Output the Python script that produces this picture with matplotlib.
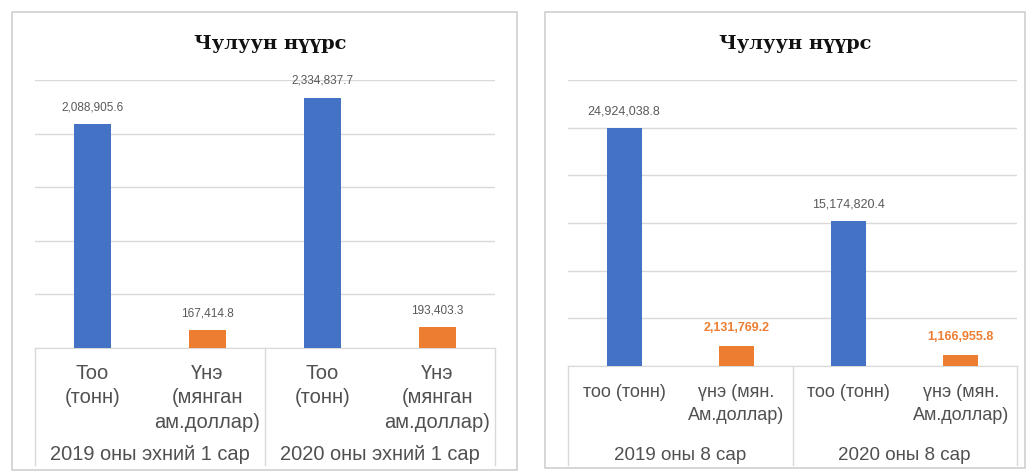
import matplotlib
matplotlib.use("Agg")
import matplotlib.pyplot as plt
import matplotlib.transforms as mtransforms
from matplotlib.patches import Rectangle
from matplotlib.lines import Line2D

W, H = 1030, 474

title = "Чулуун нүүрс"

# Left chart
left_cats = ["Тоо\n(тонн)", "Үнэ\n(мянган\nам.доллар)", "Тоо\n(тонн)", "Үнэ\n(мянган\nам.доллар)"]
left_groups = ["2019 оны эхний 1 сар", "2020 оны эхний 1 сар"]
left_values = [2088905.6, 167414.8, 2334837.7, 193403.3]
left_labels = ["2,088,905.6", "167,414.8", "2,334,837.7", "193,403.3"]

# Right chart
right_cats = ["тоо (тонн)", "үнэ (мян.\nАм.доллар)", "тоо (тонн)", "үнэ (мян.\nАм.доллар)"]
right_groups = ["2019 оны 8 сар", "2020 оны 8 сар"]
right_values = [24924038.8, 2131769.2, 15174820.4, 1166955.8]
right_labels = ["24,924,038.8", "2,131,769.2", "15,174,820.4", "1,166,955.8"]

BLUE = "#4472C4"
ORANGE = "#ED7D31"
GRID = "#D9D9D9"
TXT = "#505050"

plt.rcParams['font.family'] = ['Liberation Sans', 'DejaVu Sans']

fig = plt.figure(figsize=(W / 100, H / 100), dpi=100)
fig.patch.set_facecolor("white")


def fx(x):
    return x / W


def fy(y):
    return 1 - y / H


def panel_border(x0, y0, x1, y1):
    fig.add_artist(Rectangle((fx(x0), fy(y1)), fx(x1) - fx(x0), fy(y0) - fy(y1),
                             transform=fig.transFigure, fill=False,
                             edgecolor="#D0D0D0", linewidth=1.2))


def make_panel(px0, px1, py_top, py_base, ymax, ystep, values, labels, cats, groups,
               bw, title_x, cat_top, cat_fs, cat_ls, grp_y, grp_fs, val_fs, orange_style,
               sep_bottom):
    ax = fig.add_axes([fx(px0), fy(py_base), fx(px1) - fx(px0), fy(py_top) - fy(py_base)])
    x = list(range(len(values)))
    colors = [BLUE, ORANGE, BLUE, ORANGE]
    ax.bar(x, values, width=bw, color=colors, zorder=3)
    ax.set_xlim(-0.5, len(values) - 0.5)
    ax.set_ylim(0, ymax)
    ticks = [i * ystep for i in range(int(round(ymax / ystep)) + 1)]
    ax.set_yticks(ticks)
    ax.yaxis.grid(True, color=GRID, linewidth=1.0, zorder=0)
    ax.set_yticklabels([])
    ax.tick_params(left=False, bottom=False, labelbottom=False)
    for s in ["top", "right", "left"]:
        ax.spines[s].set_visible(False)
    ax.spines["bottom"].set_color(GRID)
    ax.set_facecolor("none")
    for i, (v, lab) in enumerate(zip(values, labels)):
        if i % 2 == 1 and orange_style:
            ax.annotate(lab, (i, v), xytext=(0, 18), textcoords="offset pixels",
                        ha="center", va="center", fontsize=val_fs,
                        color=ORANGE, fontweight="bold")
        else:
            ax.annotate(lab, (i, v), xytext=(0, 17), textcoords="offset pixels",
                        ha="center", va="center", fontsize=val_fs, color="#595959")
    tr = mtransforms.blended_transform_factory(ax.transData, fig.transFigure)
    for i, c in enumerate(cats):
        ax.text(i, fy(cat_top), c, transform=tr, ha="center", va="top",
                fontsize=cat_fs, color=TXT, linespacing=cat_ls)
    for g, gname in enumerate(groups):
        ax.text(2 * g + 0.5, fy(grp_y), gname, transform=tr, ha="center", va="center",
                fontsize=grp_fs, color=TXT)
    for sx in [-0.5, 1.5, 3.5]:
        ax.add_artist(Line2D([sx, sx], [fy(py_base), fy(sep_bottom)], transform=tr,
                             color=GRID, linewidth=1.0, clip_on=False))
    fig.text(fx(title_x), fy(44), title, ha="center", va="center", fontsize=14,
             fontweight="bold", family=["DejaVu Serif"], color="#111111")
    return ax


panel_border(12, 12, 517, 470)
panel_border(545, 12, 1025, 468)

make_panel(35, 495, 80, 348, 2500000, 500000, left_values, left_labels, left_cats,
           left_groups, 0.32, 270, 364, 14.5, 1.35, 455, 14.4, 8.5, False, 465)
make_panel(568, 1017, 80, 366, 30000000, 5000000, right_values, right_labels, right_cats,
           right_groups, 0.31, 795, 384, 13, 1.45, 456, 13.5, 9, True, 465)

fig.savefig("out.png", dpi=100, facecolor="white")
